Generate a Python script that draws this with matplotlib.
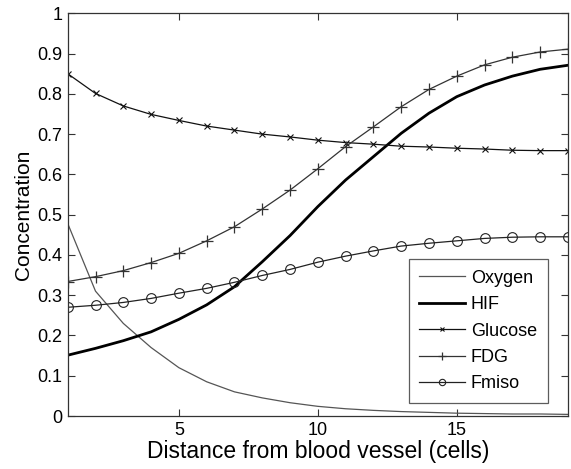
import numpy as np
import matplotlib as mpl
mpl.use("Agg")
import matplotlib.pyplot as plt

mpl.rcParams.update({
    "font.family": ["Liberation Sans", "DejaVu Sans"],
    "xtick.direction": "in",
    "ytick.direction": "in",
    "xtick.top": True,
    "ytick.right": True,
})

# ── Data ──
distance = list(range(1, 20))
oxygen = [0.478, 0.310, 0.230, 0.170, 0.120, 0.085, 0.060, 0.045, 0.033, 0.024,
          0.018, 0.014, 0.011, 0.009, 0.007, 0.006, 0.005, 0.005, 0.004]
hif = [0.151, 0.168, 0.187, 0.209, 0.240, 0.276, 0.321, 0.383, 0.448, 0.520,
       0.586, 0.644, 0.702, 0.752, 0.793, 0.822, 0.844, 0.861, 0.871]
glucose = [0.850, 0.801, 0.770, 0.749, 0.734, 0.720, 0.710, 0.700, 0.693, 0.685,
           0.679, 0.675, 0.670, 0.668, 0.665, 0.663, 0.660, 0.659, 0.659]
fdg = [0.334, 0.346, 0.361, 0.381, 0.404, 0.435, 0.470, 0.514, 0.561, 0.614,
       0.669, 0.718, 0.768, 0.811, 0.844, 0.872, 0.891, 0.904, 0.911]
fmiso = [0.270, 0.275, 0.282, 0.292, 0.305, 0.317, 0.332, 0.349, 0.364, 0.382,
         0.397, 0.410, 0.422, 0.429, 0.435, 0.441, 0.444, 0.445, 0.445]
ytick_labels = ["0", "0.1", "0.2", "0.3", "0.4", "0.5", "0.6", "0.7",
                "0.8", "0.9", "1"]

fig = plt.figure(figsize=(5.71, 4.69), dpi=100)
ax = fig.add_axes([0.1186, 0.113, 0.876, 0.8586])

ax.plot(distance, oxygen, color="#555555", lw=0.9, label="Oxygen")
ax.plot(distance, hif, color="black", lw=2.0, label="HIF")
ax.plot(distance, glucose, color="#111111", lw=0.9, marker="x", ms=5,
        mew=0.8, label="Glucose")
ax.plot(distance, fdg, color="#333333", lw=0.9, marker="+", ms=9,
        mew=0.9, label="FDG")
ax.plot(distance, fmiso, color="#222222", lw=0.9, marker="o", ms=7,
        mfc="none", mew=0.8, label="Fmiso")

ax.set_xlim(1, 19)
ax.set_ylim(0, 1)
ax.set_xticks([5, 10, 15])
ax.set_yticks(np.linspace(0, 1, 11))
ax.set_yticklabels(ytick_labels)
ax.tick_params(labelsize=13, length=5, width=0.8, colors="#333333",
               labelcolor="black", pad=4)
for s in ax.spines.values():
    s.set_color("#333333")
    s.set_linewidth(0.9)

ax.set_xlabel("Distance from blood vessel (cells)", fontsize=16.5, labelpad=1)
ax.set_ylabel("Concentration", fontsize=15, labelpad=3)

leg = ax.legend(loc="lower right", bbox_to_anchor=(0.96, 0.032), fontsize=13,
                frameon=True, fancybox=False, edgecolor="#333333",
                handlelength=2.5, handletextpad=0.35, labelspacing=0.52,
                borderpad=0.6, borderaxespad=0, numpoints=1, markerscale=0.65)
leg.get_frame().set_linewidth(0.9)

fig.savefig("out.png", dpi=100)
